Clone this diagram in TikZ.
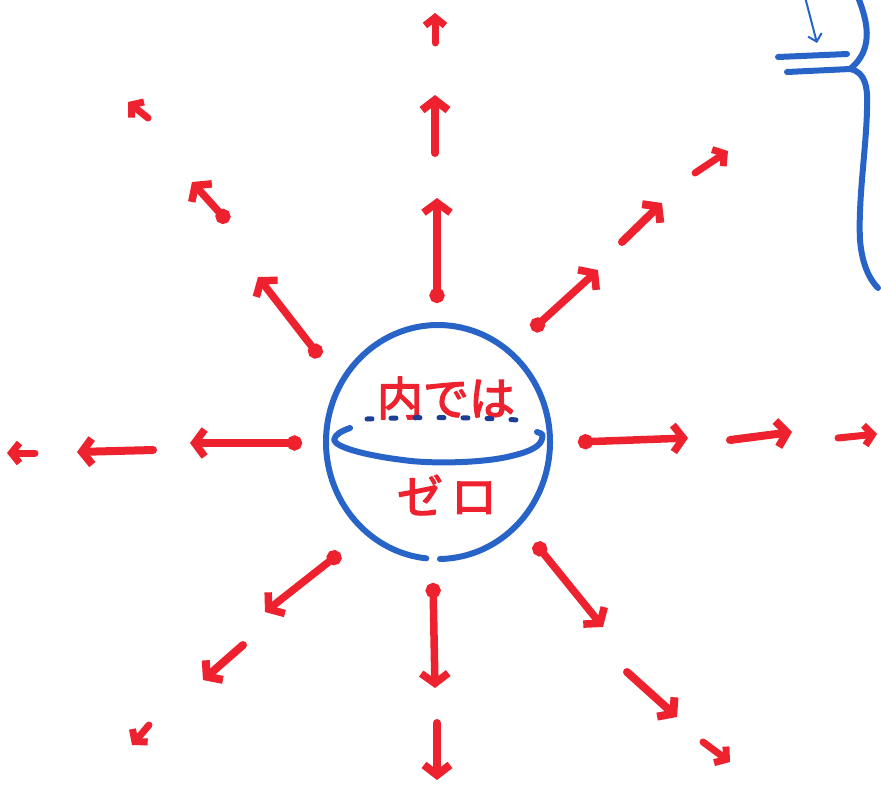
\documentclass[tikz,border=0pt]{standalone}
\usepackage{fontspec}
\newfontfamily\cjk{Noto Sans CJK JP}[AutoFakeBold=3]
\usetikzlibrary{arrows.meta}
\definecolor{mred}{RGB}{238,34,46}
\definecolor{mblue}{RGB}{40,100,200}
\definecolor{dblue}{RGB}{28,62,150}
\begin{document}
\begin{tikzpicture}[x=1pt,y=-1pt, line cap=round, line join=round,
  ray/.style={draw=mred, line width=8pt, -{Straight Barb[length=10pt,width=26pt]}},
  dotray/.style={draw=mred, line width=7.5pt, {Circle[length=15pt]}-{Straight Barb[length=10pt,width=27pt]}},
  smallray/.style={draw=mred, line width=7pt, -{Straight Barb[length=8pt,width=20pt]}},
  bline/.style={draw=mblue, line width=6pt},
  lbl/.style={text=mred, inner sep=0pt, font=\cjk\bfseries\fontsize{46}{46}\selectfont}]
\useasboundingbox[fill=white] (0,0) rectangle (881,785);

% first segments (with dot at the start)
\foreach \xa/\ya/\xb/\yb in {320/357/258/277, 532/330/598/270, 437/303/437/198, 340/553/265/612,
                   535/543/603/627, 433/583/435/688, 578/442/688/438, 302/443/190/443}
  {\draw[dotray] (\xa,\ya) -- (\xb,\yb);}
% second segments
\draw[dotray] (228,222) -- (192,182);
\foreach \xa/\ya/\xb/\yb in {622/242/662/203, 435/153/435/95, 243/645/203/680,
                   627/672/677/717, 437/723/437/780, 730/440/792/432, 153/450/77/452}
  {\draw[ray] (\xa,\ya) -- (\xb,\yb);}
% third segments
\foreach \xa/\ya/\xb/\yb in {148/118/128/102, 695/173/728/151, 435/43/435/13, 149/725/132/745,
                   703/742/730/762, 838/438/877/434, 35/453/7/453}
  {\draw[smallray] (\xa,\ya) -- (\xb,\yb);}

% sphere
\draw[bline] (438,442) ++(96:112 and 117) arc[start angle=96, end angle=449, x radius=112, y radius=117];
% equator (front)
\draw[bline] (350,428) .. controls (342,431) and (335,434) .. (334,440)
  .. controls (336,448) and (370,456) .. (403,460)
  .. controls (430,464) and (480,463) .. (507,457)
  .. controls (525,453) and (540,448) .. (542,439)
  .. controls (543,434) .. (537,432);

% text
\node[lbl] (inner) at (446,398) {内では};
\node[lbl] (zero) at (447,495) {ゼ\hspace{8pt}ロ};

% equator (back, dashed)
\draw[draw=dblue, line width=5pt, dash pattern=on 5pt off 19pt]
  (367,419) .. controls (420,417) and (470,417) .. (518,420);

% blue shape at top right
\coordinate (j) at (850,69);
\draw[bline] (858,-3) .. controls (866,18) and (876,48) .. (j);
\draw[bline] (j) .. controls (866,72) and (868,88) .. (867,110)
  .. controls (866,150) and (858,200) .. (860,240)
  .. controls (862,265) and (870,280) .. (878,288);
\draw[bline] (778,57) -- (847,54);
\draw[bline] (787,72) -- (j);
\draw[draw=mblue, line width=2pt, -{Straight Barb[length=7pt,width=14pt]}] (805,-3) -- (817,43);
\end{tikzpicture}
\end{document}
